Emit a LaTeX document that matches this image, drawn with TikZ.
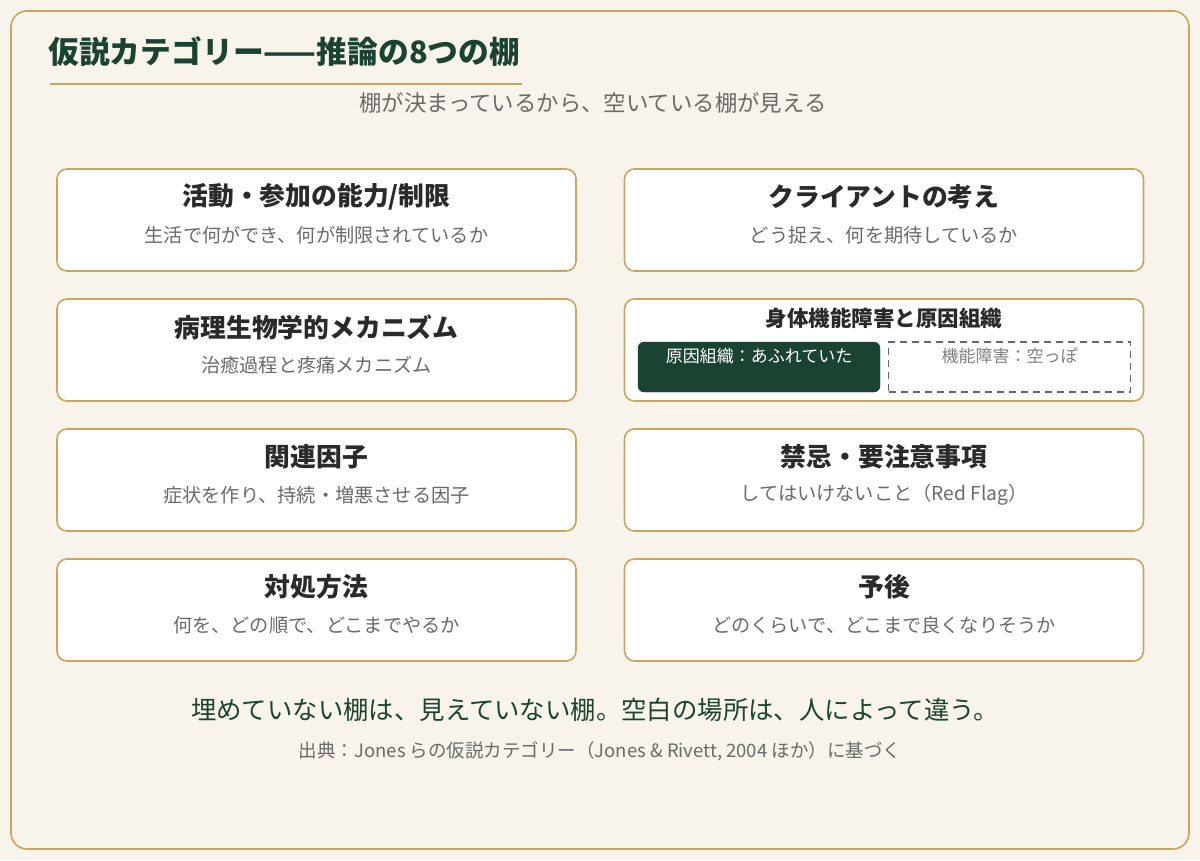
\documentclass[tikz,border=0pt]{standalone}
\usepackage{fontspec}
\setmainfont{Noto Sans CJK JP}
\usetikzlibrary{positioning}
\definecolor{bgc}{HTML}{F8F3EB}
\definecolor{gold}{HTML}{C9A55E}
\definecolor{dgreen}{HTML}{1B4332}
\definecolor{tdark}{HTML}{2A2A2A}
\definecolor{tgray}{HTML}{6A6A6A}
\definecolor{dgray}{HTML}{666666}
\tikzset{
  shelf/.style={draw=gold, line width=1.6pt, fill=white, rounded corners=10pt, minimum width=519pt, minimum height=102pt, inner sep=0pt},
  ttl/.style={font=\fontsize{25.8}{30}\selectfont\bfseries, text=tdark, inner sep=0pt},
  sub/.style={font=\fontsize{19.2}{22}\selectfont, text=tgray, inner sep=0pt},
}
\begin{document}
\begin{tikzpicture}[x=1pt,y=-1pt]
\useasboundingbox (0,0) rectangle (1200,860);
\fill[bgc] (0,0) rectangle (1200,860);
\draw[gold, line width=1.6pt, rounded corners=16pt] (11,11) rectangle (1189,849);
\node[anchor=base west, inner sep=0pt, text=dgreen, font=\fontsize{30.8}{34}\selectfont\bfseries] (title) at (48,63) {仮説カテゴリー——推論の8つの棚};
\draw[gold, line width=2.6pt] (50,84) -- (522,84);
\node[inner sep=0pt, text=tgray, font=\fontsize{22.4}{26}\selectfont] (subt) at (593,103) {棚が決まっているから、空いている棚が見える};
% left column
\node[shelf] (b1) at (316.5,220) {};
\node[ttl] at (316.5,197) {活動・参加の能力/制限};
\node[sub] at (316.5,235) {生活で何ができ、何が制限されているか};
\node[shelf] (b2) at (316.5,350) {};
\node[ttl] at (316.5,327) {病理生物学的メカニズム};
\node[sub] at (316.5,365) {治癒過程と疼痛メカニズム};
\node[shelf] (b3) at (316.5,480) {};
\node[ttl] at (316.5,457) {関連因子};
\node[sub] at (316.5,495) {症状を作り、持続・増悪させる因子};
\node[shelf] (b4) at (316.5,610) {};
\node[ttl] at (316.5,587) {対処方法};
\node[sub] at (316.5,625) {何を、どの順で、どこまでやるか};
% right column
\node[shelf] (c1) at (884,220) {};
\node[ttl] at (884,197) {クライアントの考え};
\node[sub] at (884,235) {どう捉え、何を期待しているか};
\node[shelf] (c2) at (884,350) {};
\node[ttl, font=\fontsize{21.5}{25}\selectfont\bfseries] at (884,318) {身体機能障害と原因組織};
\node[draw=dgreen, fill=dgreen, rounded corners=6pt, minimum width=242pt, minimum height=50pt, inner sep=0pt] (tis) at (759,367) {};
\node[inner sep=0pt, text=white, font=\fontsize{17}{20}\selectfont] at (759,356) {原因組織：あふれていた};
\node[draw=dgray, dashed, dash pattern=on 7pt off 5pt, line width=1.3pt, minimum width=242pt, minimum height=50pt, inner sep=0pt] (fun) at (1009.5,367) {};
\node[inner sep=0pt, text=gray, font=\fontsize{17}{20}\selectfont] at (1009.5,356) {機能障害：空っぽ};
\node[shelf] (c3) at (884,480) {};
\node[ttl] at (884,457) {禁忌・要注意事項};
\node[sub] at (884,495) {してはいけないこと（Red Flag）};
\node[shelf] (c4) at (884,610) {};
\node[ttl] at (884,587) {予後};
\node[sub] at (884,625) {どのくらいで、どこまで良くなりそうか};
% bottom
\node[inner sep=0pt, text=dgreen, font=\fontsize{25.4}{30}\selectfont] (msg) at (595,710) {埋めていない棚は、見えていない棚。空白の場所は、人によって違う。};
\node[inner sep=0pt, text=tgray, font=\fontsize{18.5}{22}\selectfont] (cite) at (600,751) {出典：Jones らの仮説カテゴリー（Jones \& Rivett, 2004 ほか）に基づく};
\end{tikzpicture}
\end{document}
